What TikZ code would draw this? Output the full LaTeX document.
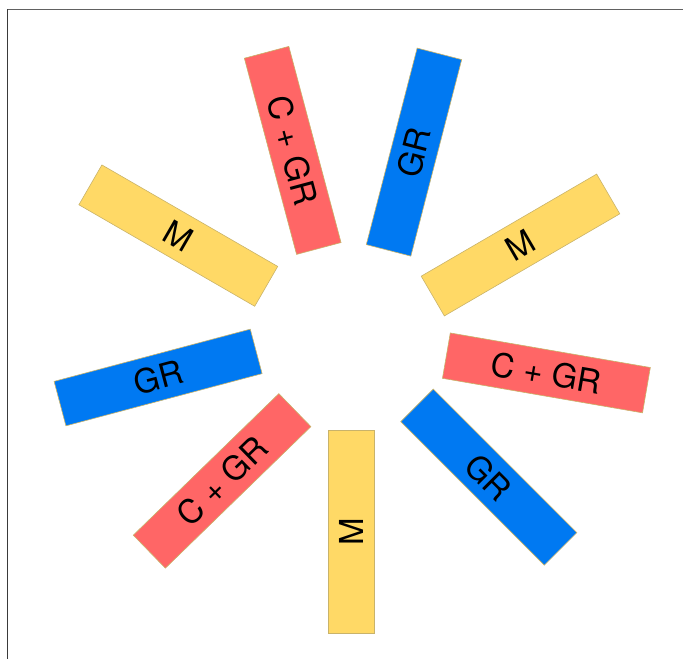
\documentclass[tikz,border=0pt]{standalone}
\usepackage{fontspec}
\setmainfont{TeX Gyre Heros}
\definecolor{barred}{HTML}{FF6666}
\definecolor{barblue}{HTML}{0079F2}
\definecolor{baryellow}{HTML}{FFD966}
\definecolor{baredge}{HTML}{C9B36A}
\definecolor{framegray}{HTML}{3A3A3A}
\tikzset{
  bar/.style={draw=baredge, line width=0.6pt, minimum width=203pt, minimum height=46pt,
    inner sep=0pt, font=\fontsize{33}{38}\selectfont, text=black},
  mbar/.style={bar, fill=baryellow},
  grbar/.style={bar, fill=barblue},
  cgbar/.style={bar, fill=barred},
}
\begin{document}
\begin{tikzpicture}[x=1pt,y=-1pt]
  \useasboundingbox (0,0) rectangle (683,659);
  % frame edges
  \coordinate (fTL) at (7.5,9);
  \coordinate (fBL) at (7.5,659);
  \coordinate (fTR) at (683,9);
  \draw[framegray, line width=1.8pt] (fTL) -- (fBL);
  \draw[framegray!80, line width=1pt] (fTL) -- (fTR);
  % ring of bars
  \node[mbar,  rotate=90]    (mB)  at (351.5,531.5) {M};
  \node[grbar, rotate=-45]   (gBR) at (488.8,477.1) {GR};
  \node[cgbar, rotate=-9.8]  (cR)  at (546.4,372.9) {C + GR};
  \node[mbar,  rotate=30.2]  (mR)  at (520.5,245.0) {M};
  \node[grbar, rotate=75.5]  (gTR) at (414.0,152.1) {GR};
  \node[cgbar, rotate=-75.1] (cTL) at (292.7,150.4) {C + GR};
  \node[mbar,  rotate=-30]   (mL)  at (178.3,235.6) {M};
  \node[grbar, rotate=14.9]  (gL)  at (158.1,377.5) {GR};
  \node[cgbar, rotate=44.2]  (cBL) at (222.1,480.9) {C + GR};
\end{tikzpicture}
\end{document}
